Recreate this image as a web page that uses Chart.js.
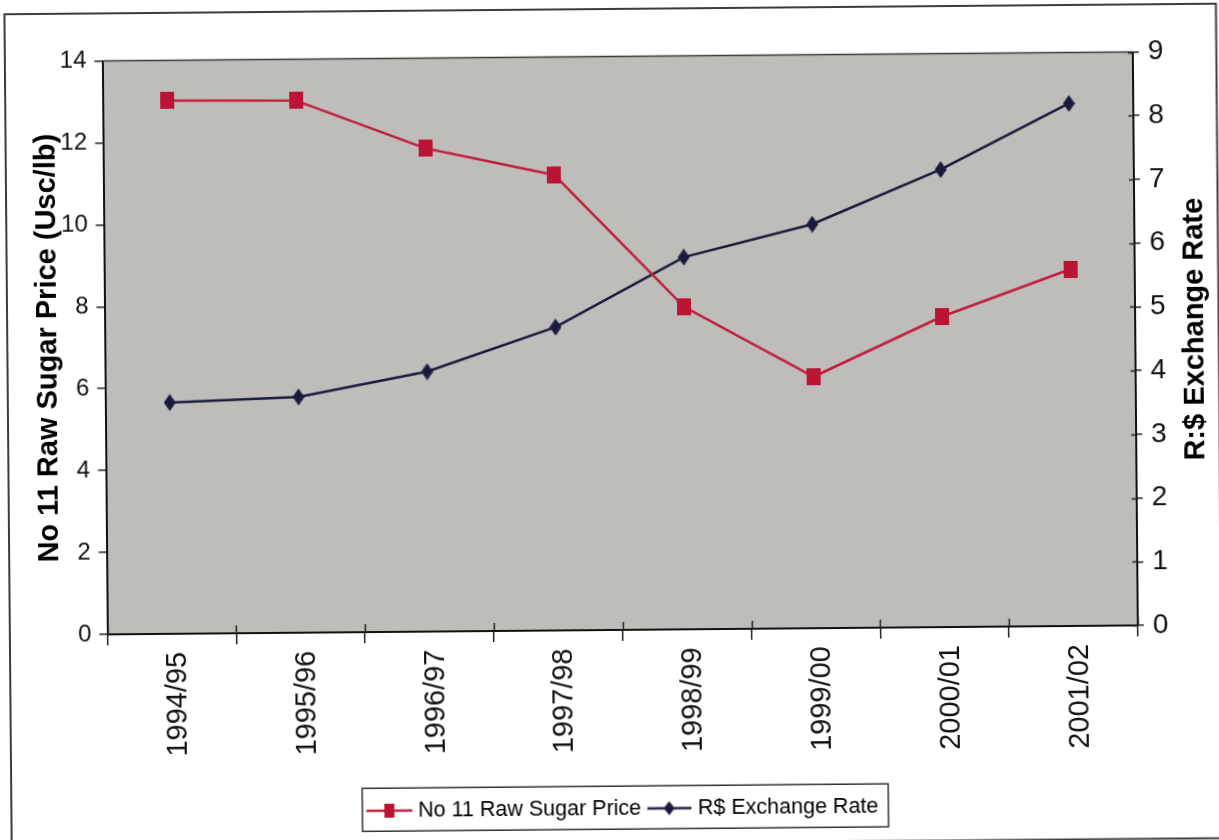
<!DOCTYPE html>
<html>
<head>
<meta charset="utf-8">
<title>No 11 Raw Sugar Price and R$ Exchange Rate</title>
<script src="https://cdn.jsdelivr.net/npm/chart.js@4.4.1/dist/chart.umd.min.js"></script>
<style>
  html, body { margin: 0; padding: 0; background: #fff; overflow: hidden; width: 1219px; height: 840px; }
  #wrap { position: absolute; left: 0; top: 0; width: 1222px; height: 846px;
          transform: rotate(-0.5deg); transform-origin: 609.5px 420px; }
  canvas { display: block; }
</style>
</head>
<body>
<div id="wrap"><canvas id="chart" width="1222" height="846"></canvas></div>
<script>
// Marketing seasons on the category axis
const seasons = ['1994/95', '1995/96', '1996/97', '1997/98', '1998/99', '1999/00', '2000/01', '2001/02'];
// ICE No 11 raw sugar price, US cents per lb (left axis)
const sugarPrice = [13.02, 12.99, 11.80, 11.12, 7.87, 6.14, 7.58, 8.71];
// Real / dollar exchange rate (right axis)
const exchangeRate = [3.63, 3.70, 4.08, 4.76, 5.84, 6.34, 7.18, 8.20];
// Axis ranges and tick spacing
const priceAxis = { min: 0, max: 14, step: 2 };
const rateAxis = { min: 0, max: 9, step: 1 };

const FONT = "'Liberation Sans', Arial, Helvetica, sans-serif";
const RED = '#bb1434';
const RED_LINE = '#c01e3c';
const NAVY = '#1a1a3e';
const PLOT_BG = '#bebdb9';

// Marker and legend glyphs drawn on small offscreen canvases
function makeCanvas(w, h, draw) {
  const c = document.createElement('canvas');
  c.width = w; c.height = h;
  draw(c.getContext('2d'), w, h);
  return c;
}
const squareMarker = makeCanvas(14, 17, (g, w, h) => { g.fillStyle = RED; g.fillRect(0, 0, w, h); });
const diamondMarker = makeCanvas(12, 17, (g, w, h) => {
  g.fillStyle = NAVY; g.beginPath();
  g.moveTo(w / 2, 0); g.lineTo(w, h / 2); g.lineTo(w / 2, h); g.lineTo(0, h / 2); g.closePath(); g.fill();
});
const squareLegend = makeCanvas(46, 16, (g, w, h) => {
  g.strokeStyle = RED_LINE; g.lineWidth = 2.5; g.beginPath(); g.moveTo(0, h / 2); g.lineTo(w, h / 2); g.stroke();
  g.fillStyle = RED; g.fillRect(w / 2 - 5, 1, 10, 14);
});
const diamondLegend = makeCanvas(44, 16, (g, w, h) => {
  g.strokeStyle = NAVY; g.lineWidth = 2.5; g.beginPath(); g.moveTo(0, h / 2); g.lineTo(w, h / 2); g.stroke();
  g.fillStyle = NAVY; g.beginPath();
  g.moveTo(w / 2, 1); g.lineTo(w / 2 + 5.5, h / 2); g.lineTo(w / 2, h - 1); g.lineTo(w / 2 - 5.5, h / 2); g.closePath(); g.fill();
});
const legendIcons = [squareLegend, diamondLegend];

// Grey plot background, drawn beneath everything
const plotBackground = {
  id: 'plotBackground',
  beforeDraw(chart) {
    const { ctx, chartArea: a } = chart;
    ctx.save();
    ctx.fillStyle = PLOT_BG;
    ctx.fillRect(a.left, a.top, a.right - a.left, a.bottom - a.top);
    ctx.restore();
  }
};

// Top border of the plot, inner halves of the crossing tick marks,
// right-hand axis title, legend box and outer chart frame
const decorations = {
  id: 'decorations',
  afterDraw(chart) {
    const { ctx, chartArea: a, scales } = chart;
    ctx.save();

    ctx.strokeStyle = '#3a3a3a';
    ctx.lineWidth = 1.5;
    ctx.beginPath(); ctx.moveTo(a.left, a.top); ctx.lineTo(a.right, a.top); ctx.stroke();

    ctx.strokeStyle = '#222';
    ctx.lineWidth = 1.5;
    const x = scales.x;
    for (let i = 0; i <= seasons.length; i++) {
      const px = Math.round(x.getPixelForValue(i - 0.5)) + 0.5;
      ctx.beginPath(); ctx.moveTo(px, a.bottom); ctx.lineTo(px, a.bottom - 8); ctx.stroke();
    }
    const yr = scales.yRate;
    for (let v = rateAxis.min; v <= rateAxis.max; v += rateAxis.step) {
      const py = Math.round(yr.getPixelForValue(v)) + 0.5;
      ctx.beginPath(); ctx.moveTo(a.right, py); ctx.lineTo(a.right - 5, py); ctx.stroke();
    }

    ctx.fillStyle = '#000';
    ctx.font = 'bold 29px ' + FONT;
    ctx.textAlign = 'center';
    ctx.textBaseline = 'middle';
    ctx.translate(a.right + 60, (a.top + a.bottom) / 2 - 9);
    ctx.rotate(-Math.PI / 2);
    ctx.fillText('R:$ Exchange Rate', 0, 0);
    ctx.setTransform(1, 0, 0, 1, 0, 0);

    const boxes = chart.legend.legendHitBoxes;
    if (boxes && boxes.length) {
      const first = boxes[0], last = boxes[boxes.length - 1];
      const cy = first.top + first.height / 2;
      const left = first.left - 9;
      const right = last.left + last.width + 10;
      ctx.strokeStyle = '#333';
      ctx.lineWidth = 1.5;
      ctx.strokeRect(left, cy - 22.5, right - left, 43);
    }

    ctx.strokeStyle = '#3c3c3c';
    ctx.lineWidth = 2;
    ctx.strokeRect(8, 9, 1211.5, 834.5);
    ctx.restore();
  }
};

const axisGrid = (len) => ({ drawOnChartArea: false, drawTicks: true, tickLength: len, color: '#222', lineWidth: 1.5 });
const axisBorder = { display: true, color: '#111', width: 2 };

new Chart(document.getElementById('chart'), {
  type: 'line',
  data: {
    labels: seasons,
    datasets: [
      {
        label: 'No 11 Raw Sugar Price',
        data: sugarPrice,
        yAxisID: 'yPrice',
        borderColor: RED_LINE,
        backgroundColor: RED,
        borderWidth: 2.5,
        pointStyle: squareMarker,
        pointRadius: 7,
        tension: 0
      },
      {
        label: 'R$ Exchange Rate',
        data: exchangeRate,
        yAxisID: 'yRate',
        borderColor: NAVY,
        backgroundColor: NAVY,
        borderWidth: 2.5,
        pointStyle: diamondMarker,
        pointRadius: 7,
        tension: 0
      }
    ]
  },
  options: {
    responsive: false,
    animation: false,
    devicePixelRatio: 1,
    layout: { padding: { left: 30, right: 9, top: 56.5, bottom: 16.5 } },
    scales: {
      x: {
        type: 'category',
        offset: true,
        grid: Object.assign(axisGrid(11), { offset: true }),
        border: axisBorder,
        ticks: {
          autoSkip: false,
          minRotation: 90,
          maxRotation: 90,
          padding: 7,
          labelOffset: 6,
          color: '#111',
          font: { family: FONT, size: 29, lineHeight: 1 }
        },
        afterFit(s) { s.height = s.chart.height - 16.5 - s.chart.legend.height - 630; }
      },
      yPrice: {
        position: 'left',
        min: priceAxis.min,
        max: priceAxis.max,
        grid: axisGrid(8),
        border: axisBorder,
        ticks: { stepSize: priceAxis.step, padding: 8, color: '#111', font: { family: FONT, size: 24, lineHeight: 1 } },
        title: {
          display: true,
          text: 'No 11 Raw Sugar Price (Usc/lb)',
          color: '#000',
          font: { family: FONT, size: 29, weight: 'bold', lineHeight: 1 },
          padding: { top: 4, bottom: 0 }
        },
        afterFit(s) { s.width = 75.5; }
      },
      yRate: {
        position: 'right',
        min: rateAxis.min,
        max: rateAxis.max,
        grid: axisGrid(6),
        border: axisBorder,
        ticks: { stepSize: rateAxis.step, padding: 9, color: '#111', font: { family: FONT, size: 28, lineHeight: 1 } },
        afterFit(s) { s.width = 77; }
      }
    },
    plugins: {
      tooltip: { enabled: false },
      legend: {
        position: 'bottom',
        labels: {
          usePointStyle: true,
          pointStyleWidth: 36,
          padding: 10,
          color: '#000',
          font: { family: FONT, size: 21.5 },
          generateLabels(chart) {
            return Chart.defaults.plugins.legend.labels.generateLabels(chart).map((item, i) =>
              Object.assign(item, { pointStyle: legendIcons[i] }));
          }
        }
      }
    }
  },
  plugins: [plotBackground, decorations]
});
</script>
</body>
</html>
